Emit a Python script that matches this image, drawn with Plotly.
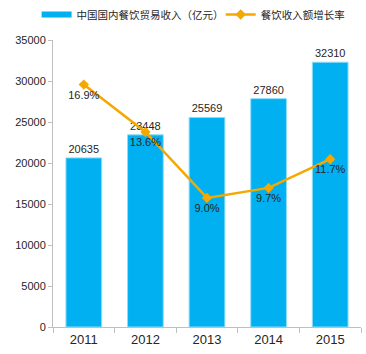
import plotly.graph_objects as go

years = ["2011", "2012", "2013", "2014", "2015"]
revenue = [20635, 23448, 25569, 27860, 32310]
growth = [16.9, 13.6, 9.0, 9.7, 11.7]
growth_labels = ["16.9%", "13.6%", "9.0%", "9.7%", "11.7%"]

font_family = "Liberation Sans, Arial, Noto Sans CJK SC, sans-serif"
bar_color = "#00B0F0"
line_color = "#F5A800"

fig = go.Figure()
fig.add_trace(go.Bar(
    x=years, y=revenue, name="中国国内餐饮贸易收入（亿元）", showlegend=False,
    marker=dict(color=bar_color, line=dict(color="#8FDDF7", width=1)),
    text=[str(v) for v in revenue], textposition="outside",
    textfont=dict(size=11, color="#262626"), cliponaxis=False,
))
# legend-only entry showing the bar series as a wide swatch
fig.add_trace(go.Scatter(
    x=[None], y=[None], name="中国国内餐饮贸易收入（亿元）", mode="lines",
    line=dict(color=bar_color, width=6), showlegend=True, legend="legend",
))
fig.add_trace(go.Scatter(
    x=years, y=growth, name="餐饮收入额增长率", yaxis="y2",
    mode="lines+markers+text",
    line=dict(color=line_color, width=2.5),
    marker=dict(symbol="diamond", size=8, color=line_color),
    text=growth_labels, textposition="bottom center",
    textfont=dict(size=11, color="#262626"), cliponaxis=False,
    legend="legend2",
))

legend_common = dict(orientation="h", xref="container", yref="container", y=1.0,
                     yanchor="top", xanchor="left", font=dict(size=10.5),
                     itemwidth=30, bgcolor="rgba(0,0,0,0)")

fig.update_layout(
    width=366, height=354,
    margin=dict(l=53, r=5, t=38, b=27),
    paper_bgcolor="white", plot_bgcolor="white",
    font=dict(family=font_family, color="#262626"),
    bargap=0.42,
    showlegend=True,
    legend=dict(x=0.1, **legend_common),
    legend2=dict(x=0.603, **legend_common),
    xaxis=dict(type="category", showline=True, linecolor="#BFBFBF",
               ticks="outside", ticklen=5, tickcolor="#BFBFBF", tickson="boundaries",
               tickfont=dict(size=13, color="#262626"), showgrid=False),
    yaxis=dict(range=[0, 35000], dtick=5000, tickformat="d", showline=True,
               linecolor="#BFBFBF", ticks="outside", ticklen=4, tickcolor="#BFBFBF",
               tickfont=dict(size=11, color="#262626"), showgrid=False, zeroline=False),
    yaxis2=dict(range=[0, 20], overlaying="y", side="right", visible=False, showgrid=False),
)

fig.write_html("out.html")
